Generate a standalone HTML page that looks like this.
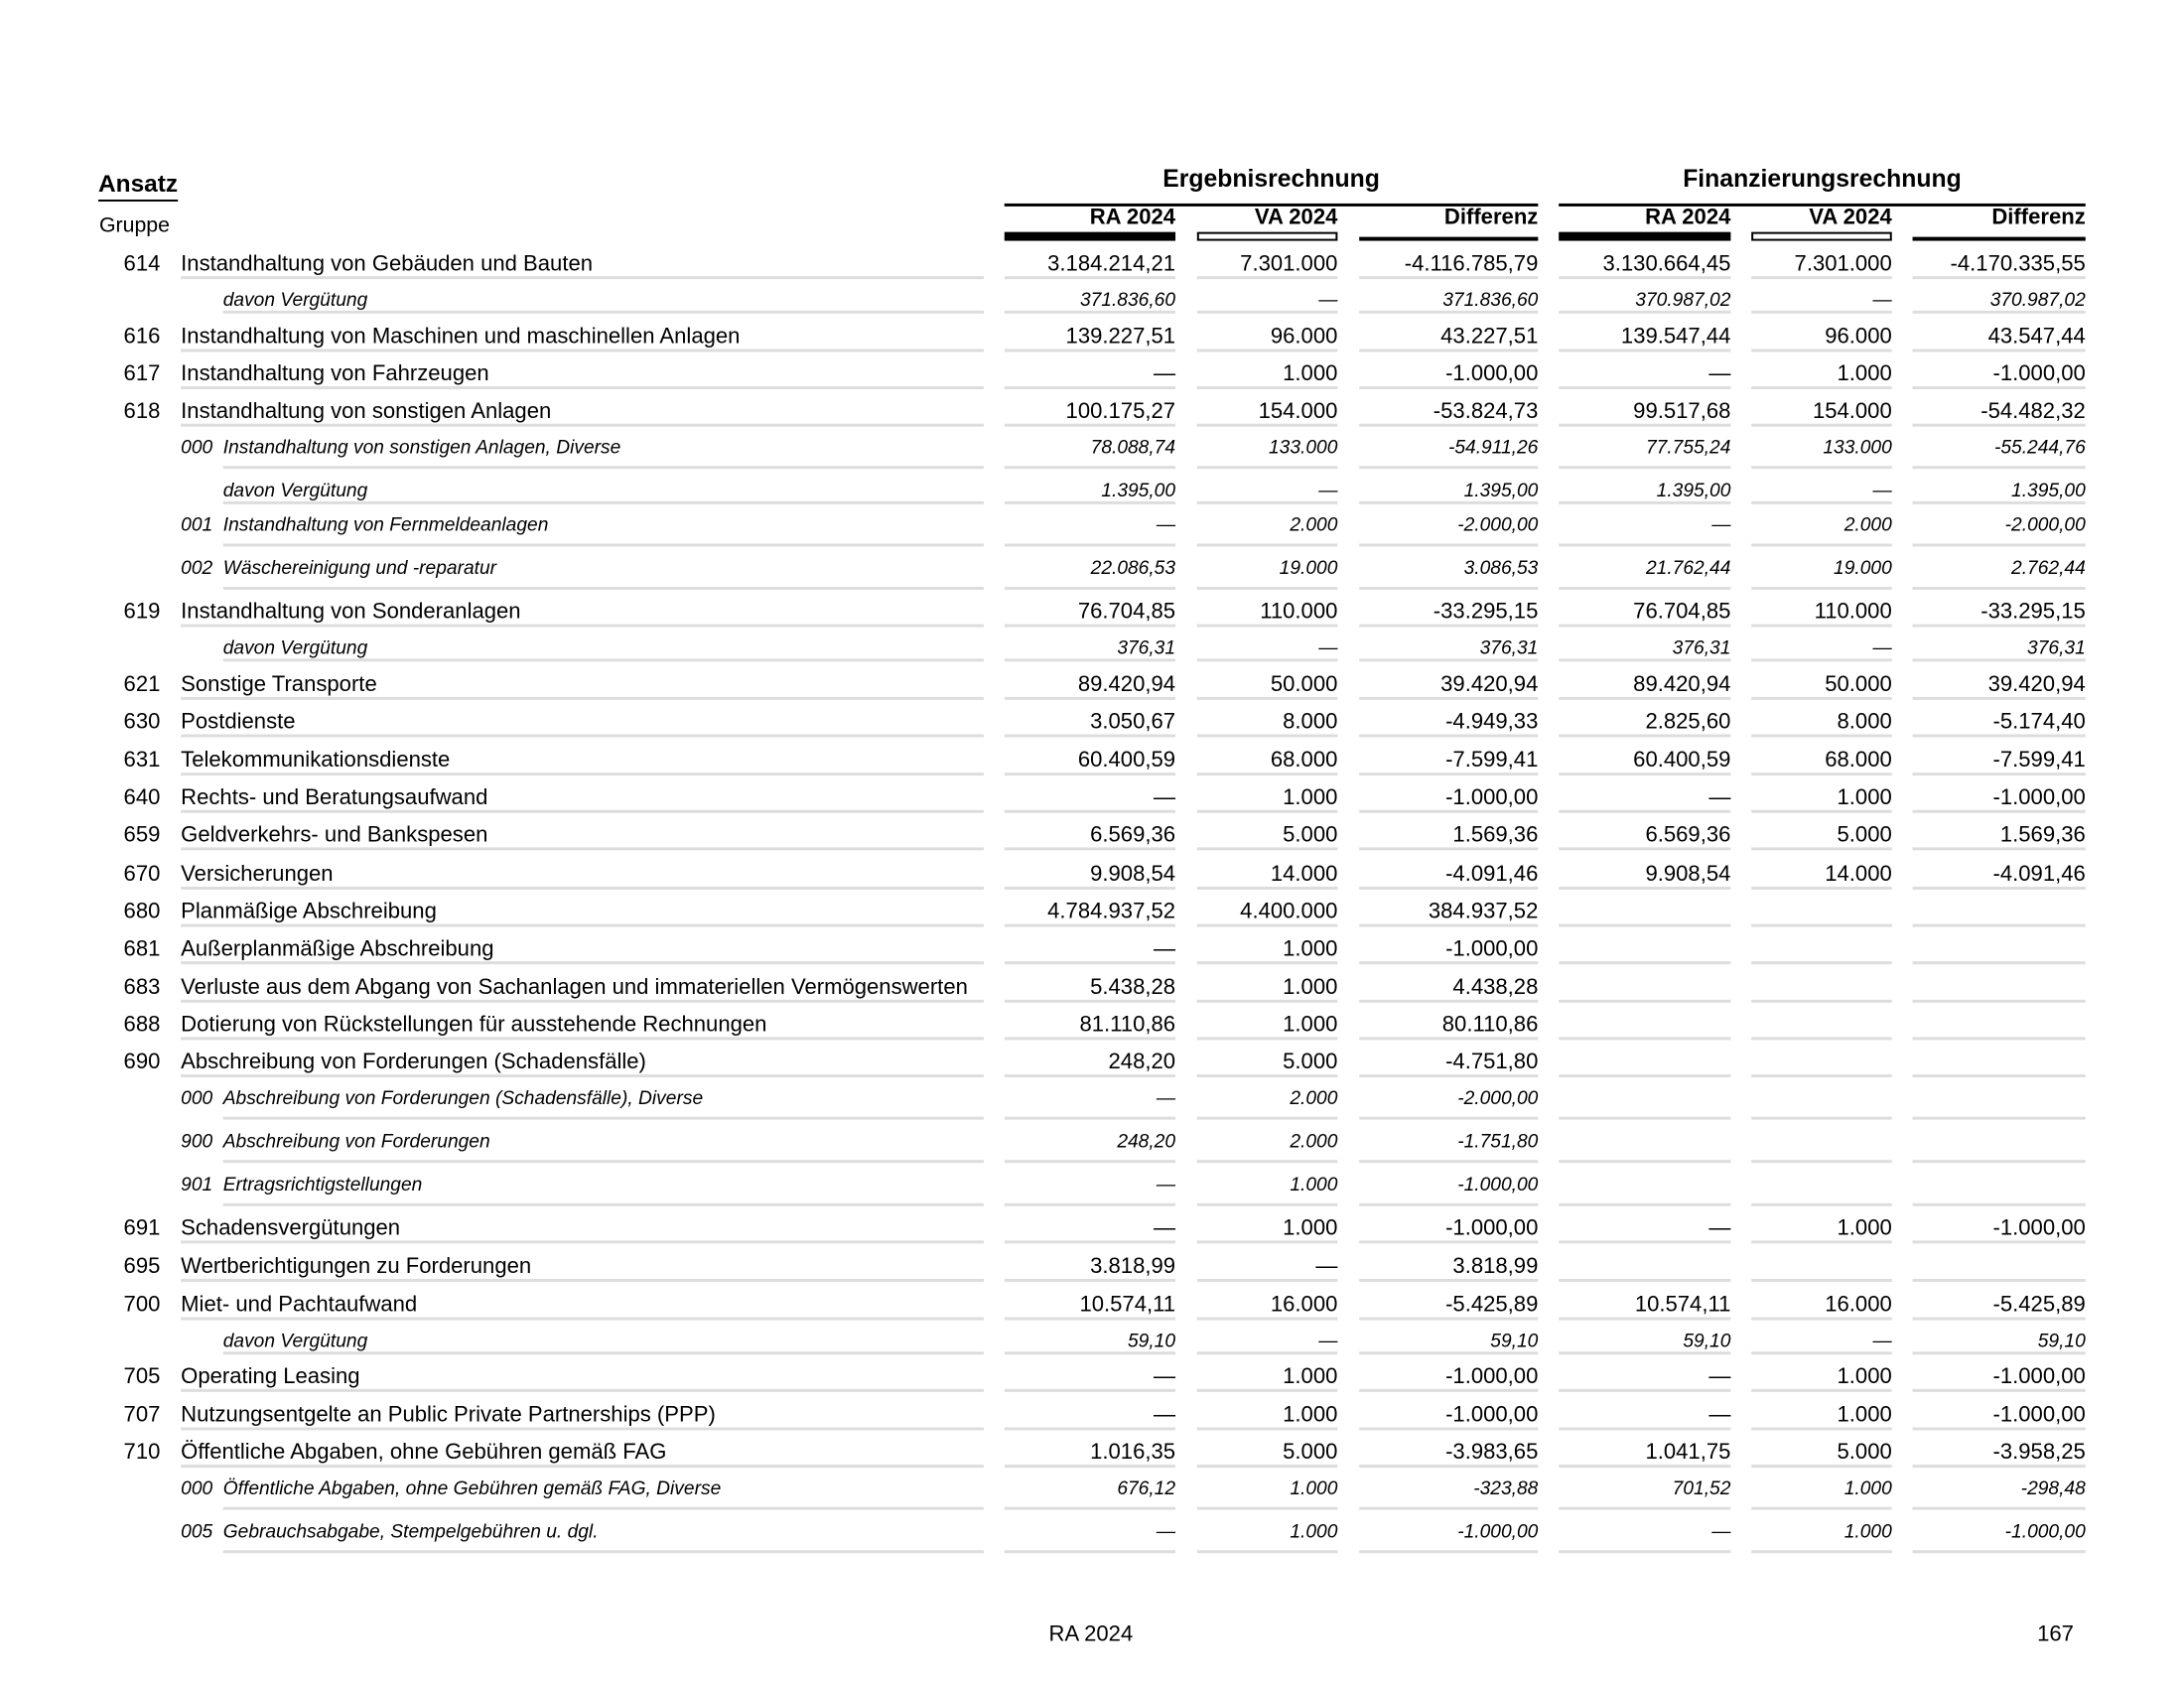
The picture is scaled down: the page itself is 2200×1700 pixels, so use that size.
<!DOCTYPE html>
<html><head><meta charset="utf-8">
<style>
*{margin:0;padding:0;box-sizing:border-box}
body{width:2200px;height:1700px;background:#fff;position:relative;overflow:hidden;font-family:"Liberation Sans",Arial,sans-serif;color:#000}
#w{position:absolute;left:0;top:0;width:2200px;height:1700px;transform:scale(0.99);transform-origin:0 0}
.a{position:absolute;white-space:nowrap}
.r{position:absolute;left:0;width:2200px}
.r span{position:absolute;top:0;bottom:0;line-height:30px;white-space:nowrap}
.m{height:31px;font-size:22.3px}
.s{height:29px;font-size:19.4px;font-style:italic}
.k{height:37px;font-size:19.4px;font-style:italic}
.c{left:100px;width:63px;text-align:right}
.k .c{left:184px;width:40px;text-align:left}
.d{left:184px;width:817px;border-bottom:3px solid #ddd}
.s .d,.k .d{left:227px;width:774px}
.v1,.v2,.v3,.v4,.v5,.v6{text-align:right;border-bottom:3px solid #ddd}
.v1{left:1022px;width:174px}.v2{left:1218px;width:143px}.v3{left:1383px;width:182px}
.v4{left:1586px;width:175px}.v5{left:1782px;width:143px}.v6{left:1946px;width:176px}
.h{font-weight:bold;font-size:22.3px}
</style></head><body><div id="w">
<div class="a" style="left:100px;top:173px;font-size:24.7px;font-weight:bold;border-bottom:2px solid #000;line-height:30px">Ansatz</div>
<div class="a" style="left:101px;top:217px;font-size:21.5px">Gruppe</div>
<div class="a" style="left:1022px;width:543px;top:168px;text-align:center;font-size:25px;font-weight:bold">Ergebnisrechnung</div>
<div class="a" style="left:1586px;width:536px;top:168px;text-align:center;font-size:25px;font-weight:bold">Finanzierungsrechnung</div>
<div class="a" style="left:1022px;width:543px;top:207px;height:3px;background:#000"></div>
<div class="a" style="left:1586px;width:536px;top:207px;height:3px;background:#000"></div>
<div class="a h" style="left:1022px;width:174px;top:208px;text-align:right">RA 2024</div>
<div class="a h" style="left:1218px;width:143px;top:208px;text-align:right">VA 2024</div>
<div class="a h" style="left:1383px;width:182px;top:208px;text-align:right">Differenz</div>
<div class="a h" style="left:1586px;width:175px;top:208px;text-align:right">RA 2024</div>
<div class="a h" style="left:1782px;width:143px;top:208px;text-align:right">VA 2024</div>
<div class="a h" style="left:1946px;width:176px;top:208px;text-align:right">Differenz</div>
<div class="a" style="left:1022px;width:174px;top:236px;height:9px;background:#000"></div>
<div class="a" style="left:1218px;width:143px;top:236px;height:9px;border:2px solid #000"></div>
<div class="a" style="left:1383px;width:182px;top:241px;height:4px;background:#000"></div>
<div class="a" style="left:1586px;width:175px;top:236px;height:9px;background:#000"></div>
<div class="a" style="left:1782px;width:143px;top:236px;height:9px;border:2px solid #000"></div>
<div class="a" style="left:1946px;width:176px;top:241px;height:4px;background:#000"></div>

<div class="r m" style="top:253px"><span class="c">614</span><span class="d">Instandhaltung von Gebäuden und Bauten</span><span class="v1">3.184.214,21</span><span class="v2">7.301.000</span><span class="v3">-4.116.785,79</span><span class="v4">3.130.664,45</span><span class="v5">7.301.000</span><span class="v6">-4.170.335,55</span></div>
<div class="r s" style="top:290px"><span class="d">davon Vergütung</span><span class="v1">371.836,60</span><span class="v2">—</span><span class="v3">371.836,60</span><span class="v4">370.987,02</span><span class="v5">—</span><span class="v6">370.987,02</span></div>
<div class="r m" style="top:327px"><span class="c">616</span><span class="d">Instandhaltung von Maschinen und maschinellen Anlagen</span><span class="v1">139.227,51</span><span class="v2">96.000</span><span class="v3">43.227,51</span><span class="v4">139.547,44</span><span class="v5">96.000</span><span class="v6">43.547,44</span></div>
<div class="r m" style="top:365px"><span class="c">617</span><span class="d">Instandhaltung von Fahrzeugen</span><span class="v1">—</span><span class="v2">1.000</span><span class="v3">-1.000,00</span><span class="v4">—</span><span class="v5">1.000</span><span class="v6">-1.000,00</span></div>
<div class="r m" style="top:403px"><span class="c">618</span><span class="d">Instandhaltung von sonstigen Anlagen</span><span class="v1">100.175,27</span><span class="v2">154.000</span><span class="v3">-53.824,73</span><span class="v4">99.517,68</span><span class="v5">154.000</span><span class="v6">-54.482,32</span></div>
<div class="r k" style="top:440px"><span class="c">000</span><span class="d">Instandhaltung von sonstigen Anlagen, Diverse</span><span class="v1">78.088,74</span><span class="v2">133.000</span><span class="v3">-54.911,26</span><span class="v4">77.755,24</span><span class="v5">133.000</span><span class="v6">-55.244,76</span></div>
<div class="r s" style="top:484px"><span class="d">davon Vergütung</span><span class="v1">1.395,00</span><span class="v2">—</span><span class="v3">1.395,00</span><span class="v4">1.395,00</span><span class="v5">—</span><span class="v6">1.395,00</span></div>
<div class="r k" style="top:519px"><span class="c">001</span><span class="d">Instandhaltung von Fernmeldeanlagen</span><span class="v1">—</span><span class="v2">2.000</span><span class="v3">-2.000,00</span><span class="v4">—</span><span class="v5">2.000</span><span class="v6">-2.000,00</span></div>
<div class="r k" style="top:563px"><span class="c">002</span><span class="d">Wäschereinigung und -reparatur</span><span class="v1">22.086,53</span><span class="v2">19.000</span><span class="v3">3.086,53</span><span class="v4">21.762,44</span><span class="v5">19.000</span><span class="v6">2.762,44</span></div>
<div class="r m" style="top:607px"><span class="c">619</span><span class="d">Instandhaltung von Sonderanlagen</span><span class="v1">76.704,85</span><span class="v2">110.000</span><span class="v3">-33.295,15</span><span class="v4">76.704,85</span><span class="v5">110.000</span><span class="v6">-33.295,15</span></div>
<div class="r s" style="top:644px"><span class="d">davon Vergütung</span><span class="v1">376,31</span><span class="v2">—</span><span class="v3">376,31</span><span class="v4">376,31</span><span class="v5">—</span><span class="v6">376,31</span></div>
<div class="r m" style="top:681px"><span class="c">621</span><span class="d">Sonstige Transporte</span><span class="v1">89.420,94</span><span class="v2">50.000</span><span class="v3">39.420,94</span><span class="v4">89.420,94</span><span class="v5">50.000</span><span class="v6">39.420,94</span></div>
<div class="r m" style="top:719px"><span class="c">630</span><span class="d">Postdienste</span><span class="v1">3.050,67</span><span class="v2">8.000</span><span class="v3">-4.949,33</span><span class="v4">2.825,60</span><span class="v5">8.000</span><span class="v6">-5.174,40</span></div>
<div class="r m" style="top:758px"><span class="c">631</span><span class="d">Telekommunikationsdienste</span><span class="v1">60.400,59</span><span class="v2">68.000</span><span class="v3">-7.599,41</span><span class="v4">60.400,59</span><span class="v5">68.000</span><span class="v6">-7.599,41</span></div>
<div class="r m" style="top:796px"><span class="c">640</span><span class="d">Rechts- und Beratungsaufwand</span><span class="v1">—</span><span class="v2">1.000</span><span class="v3">-1.000,00</span><span class="v4">—</span><span class="v5">1.000</span><span class="v6">-1.000,00</span></div>
<div class="r m" style="top:834px"><span class="c">659</span><span class="d">Geldverkehrs- und Bankspesen</span><span class="v1">6.569,36</span><span class="v2">5.000</span><span class="v3">1.569,36</span><span class="v4">6.569,36</span><span class="v5">5.000</span><span class="v6">1.569,36</span></div>
<div class="r m" style="top:874px"><span class="c">670</span><span class="d">Versicherungen</span><span class="v1">9.908,54</span><span class="v2">14.000</span><span class="v3">-4.091,46</span><span class="v4">9.908,54</span><span class="v5">14.000</span><span class="v6">-4.091,46</span></div>
<div class="r m" style="top:912px"><span class="c">680</span><span class="d">Planmäßige Abschreibung</span><span class="v1">4.784.937,52</span><span class="v2">4.400.000</span><span class="v3">384.937,52</span><span class="v4"></span><span class="v5"></span><span class="v6"></span></div>
<div class="r m" style="top:950px"><span class="c">681</span><span class="d">Außerplanmäßige Abschreibung</span><span class="v1">—</span><span class="v2">1.000</span><span class="v3">-1.000,00</span><span class="v4"></span><span class="v5"></span><span class="v6"></span></div>
<div class="r m" style="top:989px"><span class="c">683</span><span class="d">Verluste aus dem Abgang von Sachanlagen und immateriellen Vermögenswerten</span><span class="v1">5.438,28</span><span class="v2">1.000</span><span class="v3">4.438,28</span><span class="v4"></span><span class="v5"></span><span class="v6"></span></div>
<div class="r m" style="top:1027px"><span class="c">688</span><span class="d">Dotierung von Rückstellungen für ausstehende Rechnungen</span><span class="v1">81.110,86</span><span class="v2">1.000</span><span class="v3">80.110,86</span><span class="v4"></span><span class="v5"></span><span class="v6"></span></div>
<div class="r m" style="top:1065px"><span class="c">690</span><span class="d">Abschreibung von Forderungen (Schadensfälle)</span><span class="v1">248,20</span><span class="v2">5.000</span><span class="v3">-4.751,80</span><span class="v4"></span><span class="v5"></span><span class="v6"></span></div>
<div class="r k" style="top:1102px"><span class="c">000</span><span class="d">Abschreibung von Forderungen (Schadensfälle), Diverse</span><span class="v1">—</span><span class="v2">2.000</span><span class="v3">-2.000,00</span><span class="v4"></span><span class="v5"></span><span class="v6"></span></div>
<div class="r k" style="top:1146px"><span class="c">900</span><span class="d">Abschreibung von Forderungen</span><span class="v1">248,20</span><span class="v2">2.000</span><span class="v3">-1.751,80</span><span class="v4"></span><span class="v5"></span><span class="v6"></span></div>
<div class="r k" style="top:1190px"><span class="c">901</span><span class="d">Ertragsrichtigstellungen</span><span class="v1">—</span><span class="v2">1.000</span><span class="v3">-1.000,00</span><span class="v4"></span><span class="v5"></span><span class="v6"></span></div>
<div class="r m" style="top:1234px"><span class="c">691</span><span class="d">Schadensvergütungen</span><span class="v1">—</span><span class="v2">1.000</span><span class="v3">-1.000,00</span><span class="v4">—</span><span class="v5">1.000</span><span class="v6">-1.000,00</span></div>
<div class="r m" style="top:1273px"><span class="c">695</span><span class="d">Wertberichtigungen zu Forderungen</span><span class="v1">3.818,99</span><span class="v2">—</span><span class="v3">3.818,99</span><span class="v4"></span><span class="v5"></span><span class="v6"></span></div>
<div class="r m" style="top:1312px"><span class="c">700</span><span class="d">Miet- und Pachtaufwand</span><span class="v1">10.574,11</span><span class="v2">16.000</span><span class="v3">-5.425,89</span><span class="v4">10.574,11</span><span class="v5">16.000</span><span class="v6">-5.425,89</span></div>
<div class="r s" style="top:1349px"><span class="d">davon Vergütung</span><span class="v1">59,10</span><span class="v2">—</span><span class="v3">59,10</span><span class="v4">59,10</span><span class="v5">—</span><span class="v6">59,10</span></div>
<div class="r m" style="top:1385px"><span class="c">705</span><span class="d">Operating Leasing</span><span class="v1">—</span><span class="v2">1.000</span><span class="v3">-1.000,00</span><span class="v4">—</span><span class="v5">1.000</span><span class="v6">-1.000,00</span></div>
<div class="r m" style="top:1424px"><span class="c">707</span><span class="d">Nutzungsentgelte an Public Private Partnerships (PPP)</span><span class="v1">—</span><span class="v2">1.000</span><span class="v3">-1.000,00</span><span class="v4">—</span><span class="v5">1.000</span><span class="v6">-1.000,00</span></div>
<div class="r m" style="top:1462px"><span class="c">710</span><span class="d">Öffentliche Abgaben, ohne Gebühren gemäß FAG</span><span class="v1">1.016,35</span><span class="v2">5.000</span><span class="v3">-3.983,65</span><span class="v4">1.041,75</span><span class="v5">5.000</span><span class="v6">-3.958,25</span></div>
<div class="r k" style="top:1499px"><span class="c">000</span><span class="d">Öffentliche Abgaben, ohne Gebühren gemäß FAG, Diverse</span><span class="v1">676,12</span><span class="v2">1.000</span><span class="v3">-323,88</span><span class="v4">701,52</span><span class="v5">1.000</span><span class="v6">-298,48</span></div>
<div class="r k" style="top:1543px"><span class="c">005</span><span class="d">Gebrauchsabgabe, Stempelgebühren u. dgl.</span><span class="v1">—</span><span class="v2">1.000</span><span class="v3">-1.000,00</span><span class="v4">—</span><span class="v5">1.000</span><span class="v6">-1.000,00</span></div>

<div class="a" style="left:1010px;width:200px;top:1649px;text-align:center;font-size:22.3px">RA 2024</div>
<div class="a" style="left:2010px;width:100px;top:1649px;text-align:right;font-size:22.3px">167</div>
</div></body></html>
